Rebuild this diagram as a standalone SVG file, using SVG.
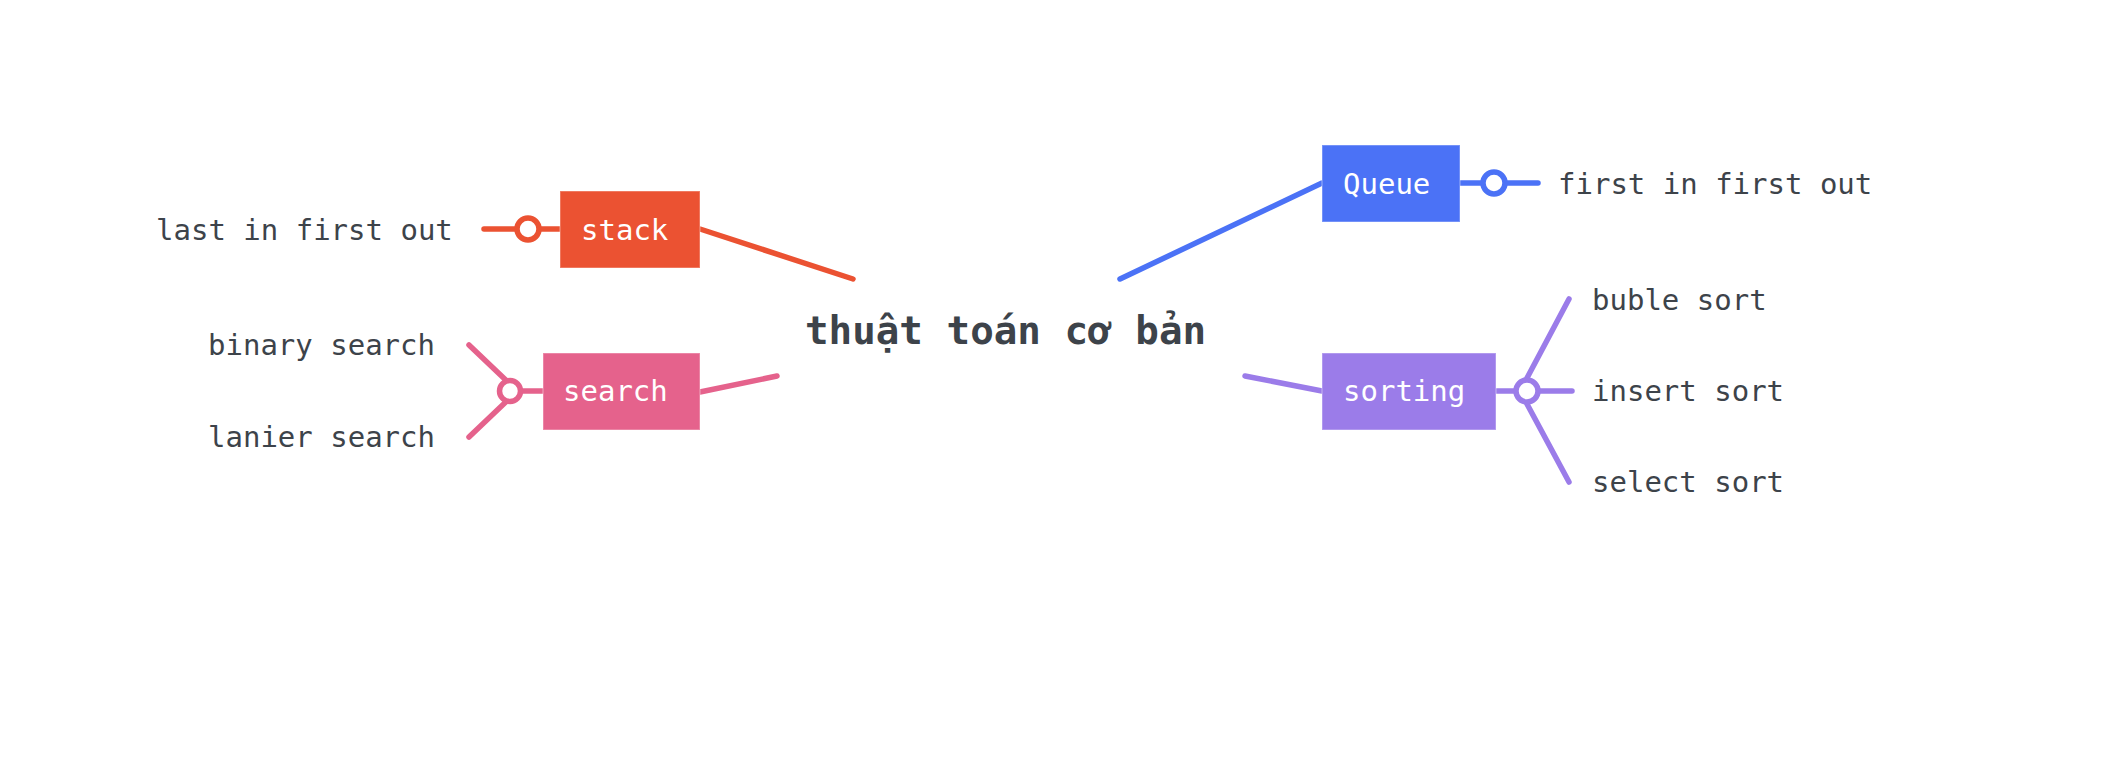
<svg xmlns="http://www.w3.org/2000/svg" width="2126" height="774" viewBox="0 0 2126 774">
<style>
.bg{fill:#ffffff}
.ln{fill:none;stroke-width:5.5;stroke-linecap:round;stroke-linejoin:round}
.dot{fill:#ffffff;stroke-width:5.5}
.box{stroke:#ffffff;stroke-opacity:0.3;stroke-width:1.5}
.nt{font-family:"DejaVu Sans Mono","Liberation Mono",monospace;font-size:29px;fill:#ffffff}
.lt{font-family:"DejaVu Sans Mono","Liberation Mono",monospace;font-size:29px;fill:#3d434a}
.ct{font-family:"DejaVu Sans Mono","Liberation Mono",monospace;font-size:39.2px;font-weight:bold;fill:#3d434a}
.red{stroke:#eb5232}
.pink{stroke:#e5628c}
.blue{stroke:#4b72f6}
.purple{stroke:#9b7ce9}
</style>
<rect class="bg" x="0" y="0" width="2126" height="774"/>
<g id="connectors">
<line class="ln red" x1="700" y1="229" x2="853" y2="279"/>
<line class="ln pink" x1="700" y1="392" x2="777" y2="376"/>
<line class="ln blue" x1="1120" y1="279" x2="1322" y2="183"/>
<line class="ln purple" x1="1245" y1="376" x2="1322" y2="391"/>
<line class="ln red" x1="484" y1="229" x2="560" y2="229"/>
<line class="ln pink" x1="510" y1="391" x2="543" y2="391"/>
<line class="ln pink" x1="510" y1="384" x2="469" y2="345"/>
<line class="ln pink" x1="510" y1="398" x2="469" y2="437"/>
<line class="ln blue" x1="1460" y1="183" x2="1538" y2="183"/>
<line class="ln purple" x1="1496" y1="391" x2="1572" y2="391"/>
<line class="ln purple" x1="1527" y1="378" x2="1569" y2="299"/>
<line class="ln purple" x1="1527" y1="404" x2="1569" y2="482"/>
<circle class="dot red" cx="528" cy="229" r="11"/>
<circle class="dot pink" cx="510" cy="391" r="10.5"/>
<circle class="dot blue" cx="1494" cy="183" r="11"/>
<circle class="dot purple" cx="1527" cy="391" r="11"/>
</g>
<g id="root">
<text class="ct" x="805" y="344">thuật toán cơ bản</text>
</g>
<g id="stack">
<rect class="box" x="560" y="191" width="140" height="77" fill="#eb5232"/>
<text class="nt" x="581" y="240">stack</text>
</g>
<g id="search">
<rect class="box" x="543" y="353" width="157" height="77" fill="#e5628c"/>
<text class="nt" x="563" y="401">search</text>
</g>
<g id="queue">
<rect class="box" x="1322" y="145" width="138" height="77" fill="#4b72f6"/>
<text class="nt" x="1343" y="194">Queue</text>
</g>
<g id="sorting">
<rect class="box" x="1322" y="353" width="174" height="77" fill="#9b7ce9"/>
<text class="nt" x="1343" y="401">sorting</text>
</g>
<g id="leaf-lifo"><text class="lt" x="156" y="240">last in first out</text></g>
<g id="leaf-binary"><text class="lt" x="208" y="355">binary search</text></g>
<g id="leaf-lanier"><text class="lt" x="208" y="447">lanier search</text></g>
<g id="leaf-fifo"><text class="lt" x="1558" y="194">first in first out</text></g>
<g id="leaf-buble"><text class="lt" x="1592" y="310">buble sort</text></g>
<g id="leaf-insert"><text class="lt" x="1592" y="401">insert sort</text></g>
<g id="leaf-select"><text class="lt" x="1592" y="492">select sort</text></g>
</svg>
